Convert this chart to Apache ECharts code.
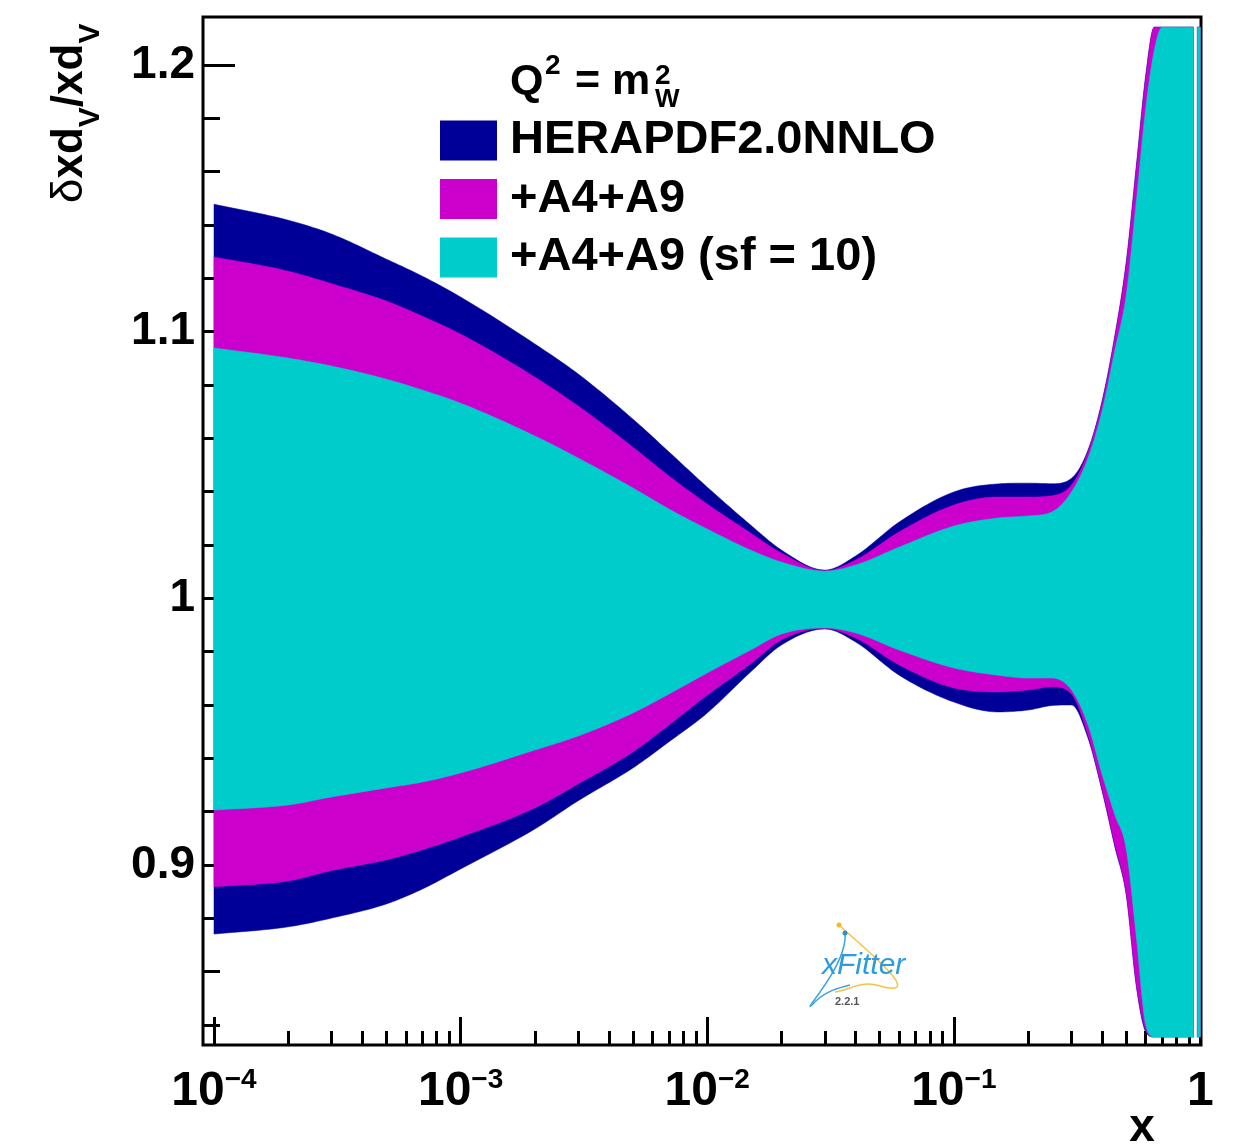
<!DOCTYPE html>
<html>
<head>
<meta charset="utf-8">
<script src="https://cdn.jsdelivr.net/npm/echarts@6.0.0/dist/echarts.min.js"></script>
<style>
  html,body{margin:0;padding:0;background:#fff;}
  #chart{width:1240px;height:1146px;}
</style>
</head>
<body>
<div id="chart"></div>
<script>
// x 取样点（真实的 x 值，画图时取 log10）
const xPoints = [0.0001, 0.0002, 0.0003, 0.0005, 0.0007, 0.001, 0.002, 0.003, 0.005, 0.007,
  0.01, 0.015, 0.02, 0.03, 0.04, 0.06, 0.1, 0.15, 0.2, 0.25,
  0.3, 0.35, 0.4, 0.45, 0.5, 0.55, 0.6, 0.65, 0.7, 0.8,
  0.9, 0.937, 0.955, 0.972, 1.0]

// HERAPDF2.0NNLO 误差带上下沿
const navyUp = [1.1478, 1.1418, 1.1366, 1.1272, 1.1208, 1.1130, 1.0954, 1.0841, 1.0672, 1.0549,
  1.0417, 1.0275, 1.0181, 1.0106, 1.0159, 1.0286, 1.0399, 1.0429, 1.0432, 1.0430,
  1.0450, 1.0556, 1.0744, 1.0987, 1.1261, 1.1625, 1.1962, 1.2142, 1.2142, 1.2142,
  1.2142, 1.2142, null, 1.2142, 1.2142]
const navyLow = [0.8741, 0.8768, 0.8801, 0.8854, 0.8910, 0.8985, 0.9135, 0.9241, 0.9364, 0.9462,
  0.9570, 0.9724, 0.9825, 0.9885, 0.9836, 0.9712, 0.9611, 0.9574, 0.9581, 0.9598,
  0.9600, 0.9476, 0.9274, 0.9067, 0.8888, 0.8543, 0.8374, 0.8355, 0.8355, 0.8355,
  0.8355, 0.8355, null, 0.8355, 0.8355]
// +A4+A9
const magUp = [1.1280, 1.1227, 1.1180, 1.1115, 1.1058, 1.0991, 1.0830, 1.0721, 1.0567, 1.0459,
  1.0354, 1.0245, 1.0170, 1.0104, 1.0144, 1.0249, 1.0350, 1.0380, 1.0380, 1.0385,
  1.0425, 1.0549, 1.0736, 1.0980, 1.1250, 1.1613, 1.1951, 1.2142, 1.2142, 1.2142,
  1.2142, 1.2142, null, 1.2142, 1.2142]
const magLow = [0.8918, 0.8940, 0.8979, 0.9019, 0.9057, 0.9105, 0.9214, 0.9304, 0.9424, 0.9525,
  0.9637, 0.9754, 0.9844, 0.9887, 0.9851, 0.9750, 0.9664, 0.9649, 0.9656, 0.9668,
  0.9641, 0.9487, 0.9281, 0.9075, 0.8895, 0.8550, 0.8381, 0.8355, 0.8355, 0.8355,
  0.8355, 0.8355, null, 0.8355, 0.8355]
// +A4+A9 (sf = 10)
const cyUp = [1.0939, 1.0901, 1.0871, 1.0822, 1.0781, 1.0732, 1.0609, 1.0526, 1.0414, 1.0335,
  1.0260, 1.0181, 1.0136, 1.0102, 1.0125, 1.0192, 1.0271, 1.0301, 1.0309, 1.0324,
  1.0399, 1.0526, 1.0706, 1.0931, 1.1137, 1.1493, 1.1838, 1.2056, 1.2142, 1.2142,
  1.2142, 1.2142, null, 1.2142, 1.2142]
const cyLow = [0.9206, 0.9225, 0.9255, 0.9289, 0.9311, 0.9345, 0.9431, 0.9484, 0.9570, 0.9641,
  0.9720, 0.9806, 0.9866, 0.9889, 0.9870, 0.9806, 0.9739, 0.9712, 0.9701, 0.9701,
  0.9656, 0.9525, 0.9337, 0.9187, 0.9060, 0.8727, 0.8400, 0.8355, 0.8355, 0.8355,
  0.8355, 0.8355, null, 0.8355, 0.8355]

const bandNames = ['HERAPDF2.0NNLO', '+A4+A9', '+A4+A9 (sf = 10)']
const bandColors = ['#000099', '#cc00cc', '#00cccc']

// 刻度
const xTickExp = [-4, -3, -2, -1, 0]
const xMinorMult = [2, 3, 4, 5, 6, 7, 8, 9]
const yMajorTicks = [0.9, 1.0, 1.1, 1.2]
const yMinorTicks = [0.84, 0.86, 0.88, 0.90, 0.92, 0.94, 0.96, 0.98, 1.00, 1.02,
  1.04, 1.06, 1.08, 1.10, 1.12, 1.14, 1.16, 1.18, 1.20]

const FONT = '"Liberation Sans", Arial, sans-serif'

let xMinorTicks = []
xTickExp.slice(0, -1).forEach(e => {
  xMinorMult.forEach(k => xMinorTicks.push(Math.log10(k * Math.pow(10, e))))
})

// 单调三次插值，只用于把折线画得平滑一些（像素坐标）
function smoothLine(pts, steps) {
  const n = pts.length
  if (n < 3) return pts.slice()
  const d = [], m = []
  for (let i = 0; i < n - 1; i++) d.push((pts[i + 1][1] - pts[i][1]) / (pts[i + 1][0] - pts[i][0]))
  m[0] = d[0]
  m[n - 1] = d[n - 2]
  for (let i = 1; i < n - 1; i++) m[i] = d[i - 1] * d[i] <= 0 ? 0 : (d[i - 1] + d[i]) / 2
  for (let i = 0; i < n - 1; i++) {
    if (d[i] === 0) { m[i] = 0; m[i + 1] = 0; continue }
    const a = m[i] / d[i], b = m[i + 1] / d[i], s = a * a + b * b
    if (s > 9) {
      const t = 3 / Math.sqrt(s)
      m[i] = t * a * d[i]
      m[i + 1] = t * b * d[i]
    }
  }
  const out = []
  for (let i = 0; i < n - 1; i++) {
    const x0 = pts[i][0], y0 = pts[i][1], x1 = pts[i + 1][0], y1 = pts[i + 1][1], h = x1 - x0
    for (let k = 0; k < steps; k++) {
      const t = k / steps, t2 = t * t, t3 = t2 * t
      const y = (2 * t3 - 3 * t2 + 1) * y0 + (t3 - 2 * t2 + t) * h * m[i] +
        (-2 * t3 + 3 * t2) * y1 + (t3 - t2) * h * m[i + 1]
      out.push([x0 + t * h, y])
    }
  }
  out.push(pts[n - 1])
  return out
}

// 把一条带（下沿、上沿）转成多边形，遇到 null 断开
function bandPolygons(params, api, style) {
  if (params.dataIndexInside !== 0) return null
  const n = params.dataInsideLength
  const segs = []
  let cur = null
  for (let j = 0; j < n; j++) {
    const x = api.value(0, j), lo = api.value(1, j), hi = api.value(2, j)
    if (isNaN(lo) || isNaN(hi) || lo == null || hi == null) { cur = null; continue }
    if (!cur) { cur = { up: [], low: [] }; segs.push(cur) }
    cur.up.push(api.coord([x, hi]))
    cur.low.push(api.coord([x, lo]))
  }
  return {
    type: 'group',
    children: segs.map(s => ({
      type: 'polygon',
      shape: { points: smoothLine(s.up, 12).concat(smoothLine(s.low, 12).reverse()) },
      style: style
    }))
  }
}

function band(name, low, up, color) {
  return {
    name: name, type: 'custom', coordinateSystem: 'cartesian2d',
    xAxisIndex: 0, yAxisIndex: 0, silent: true, clip: true,
    itemStyle: { color: color },
    encode: { x: 0, y: [1, 2] },
    data: xPoints.map((x, i) => [Math.log10(x), low[i], up[i]]),
    renderItem: (params, api) => bandPolygons(params, api, { fill: color, stroke: color, lineWidth: 0.5 })
  }
}

const series = [
  band(bandNames[0], navyLow, navyUp, bandColors[0]),
  band(bandNames[1], magLow, magUp, bandColors[1]),
  band(bandNames[2], cyLow, cyUp, bandColors[2])
]

// y 轴标题，旋转后逐段排字（带下标）
const measureCtx = document.createElement('canvas').getContext('2d')
function textWidth(txt, font) {
  measureCtx.font = font
  return measureCtx.measureText(txt).width
}
const titleParts = [
  { t: 'δ', font: '44px ' + FONT, y: -13.6 },
  { t: 'xd', font: 'bold 44px ' + FONT, y: -13.6 },
  { t: 'V', font: 'bold 30px ' + FONT, y: 7.7 },
  { t: '/xd', font: 'bold 44px ' + FONT, y: -13.6 },
  { t: 'V', font: 'bold 30px ' + FONT, y: 7.7 }
]
let cursor = 0
const titleChildren = titleParts.map(p => {
  const el = {
    type: 'text', x: cursor, y: p.y,
    style: { text: p.t, font: p.font, fill: '#000', align: 'left', textAlign: 'left', verticalAlign: 'middle', textVerticalAlign: 'middle' }
  }
  cursor += textWidth(p.t, p.font)
  return el
})

function txt(x, y, s, font, fill) {
  return {
    type: 'text', x: x, y: y,
    style: { text: s, font: font, fill: fill || '#000', align: 'left', textAlign: 'left', verticalAlign: 'middle', textVerticalAlign: 'middle' }
  }
}

const chart = echarts.init(document.getElementById('chart'), null, { renderer: 'canvas' })

chart.setOption({
  animation: false,
  backgroundColor: '#fff',
  grid: {
    left: 203, top: 17, width: 998, height: 1028,
    show: true, borderColor: '#000', borderWidth: 3, backgroundColor: 'transparent'
  },
  legend: {
    data: bandNames.map((n, i) => ({ name: n, itemStyle: { color: bandColors[i] } })),
    orient: 'vertical', left: 440, top: 117, padding: 0,
    itemWidth: 57, itemHeight: 40, itemGap: 11.5, icon: 'rect',
    selectedMode: false,
    textStyle: { fontSize: 47, fontWeight: 'bold', fontFamily: FONT, color: '#000', padding: [0, 0, 0, 8] }
  },
  xAxis: [
    {
      type: 'value', min: -4.0446, max: 0.0024, position: 'bottom',
      axisLine: { show: false, onZero: false }, splitLine: { show: false },
      axisTick: { inside: true, length: 28, customValues: xTickExp, lineStyle: { color: '#000', width: 3 } },
      axisLabel: {
        customValues: xTickExp, margin: 21,
        formatter: v => v === 0 ? '{b|1}' : '{b|10}{s|\u2212' + (-v) + '}',
        rich: {
          b: { fontSize: 48, fontWeight: 'bold', fontFamily: FONT, color: '#000', lineHeight: 50, verticalAlign: 'bottom', padding: [6, 0, 0, 0] },
          s: { fontSize: 28, fontWeight: 'bold', fontFamily: FONT, color: '#000', lineHeight: 34, verticalAlign: 'top' }
        }
      }
    },
    {
      type: 'value', min: -4.0446, max: 0.0024, position: 'bottom',
      axisLine: { show: false, onZero: false }, splitLine: { show: false },
      axisTick: { inside: true, length: 14, customValues: xMinorTicks, lineStyle: { color: '#000', width: 3 } },
      axisLabel: { show: false }
    }
  ],
  yAxis: [
    {
      type: 'value', min: 0.8325, max: 1.218, position: 'left',
      axisLine: { show: false, onZero: false }, splitLine: { show: false },
      axisTick: { inside: true, length: 32, customValues: yMajorTicks, lineStyle: { color: '#000', width: 3 } },
      axisLabel: {
        customValues: yMajorTicks, margin: 8,
        formatter: v => Math.abs(v - 1) < 1e-9 ? '1' : v.toFixed(1),
        fontSize: 46, fontWeight: 'bold', fontFamily: FONT, color: '#000'
      }
    },
    {
      type: 'value', min: 0.8325, max: 1.218, position: 'left',
      axisLine: { show: false, onZero: false }, splitLine: { show: false },
      axisTick: { inside: true, length: 17, customValues: yMinorTicks, lineStyle: { color: '#000', width: 3 } },
      axisLabel: { show: false }
    }
  ],
  series: series,
  graphic: [
    // y 轴标题
    { type: 'group', x: 83, y: 203, rotation: Math.PI / 2, children: titleChildren },
    // x 轴标题
    {
      type: 'text', x: 1142, y: 1128,
      style: { text: 'x', font: 'bold 46px ' + FONT, fill: '#000', align: 'center', textAlign: 'center', verticalAlign: 'middle', textVerticalAlign: 'middle' }
    },
    // Q^2 = m_W^2
    txt(510, 82, 'Q', 'bold 43px ' + FONT),
    txt(545, 66, '2', 'bold 28px ' + FONT),
    txt(575, 82, '=', 'bold 43px ' + FONT),
    txt(612, 82, 'm', 'bold 43px ' + FONT),
    txt(655, 76, '2', 'bold 28px ' + FONT),
    txt(655, 100, 'W', 'bold 26px ' + FONT),
    // xFitter 标志
    {
      type: 'bezierCurve',
      shape: { x1: 839, y1: 925, cpx1: 860, cpy1: 945, cpx2: 930, cpy2: 1000, x2: 880, y2: 986 },
      style: { stroke: '#f5c242', lineWidth: 1.5, fill: 'none' }
    },
    {
      type: 'bezierCurve',
      shape: { x1: 880, y1: 986, cpx1: 860, cpy1: 980, cpx2: 850, cpy2: 990, x2: 835, y2: 992 },
      style: { stroke: '#f5c242', lineWidth: 1.5, fill: 'none' }
    },
    {
      type: 'bezierCurve',
      shape: { x1: 845, y1: 933, cpx1: 848, cpy1: 965, cpx2: 800, cpy2: 1015, x2: 812, y2: 1005 },
      style: { stroke: '#3ea2e0', lineWidth: 1.5, fill: 'none' }
    },
    {
      type: 'bezierCurve',
      shape: { x1: 812, y1: 1005, cpx1: 825, cpy1: 990, cpx2: 840, cpy2: 988, x2: 850, y2: 985 },
      style: { stroke: '#3ea2e0', lineWidth: 1.5, fill: 'none' }
    },
    { type: 'circle', shape: { cx: 839, cy: 925, r: 2.5 }, style: { fill: '#f5b82e' } },
    { type: 'circle', shape: { cx: 845, cy: 933, r: 2.5 }, style: { fill: '#2b8fd6' } },
    {
      type: 'text', x: 822, y: 966,
      style: { text: 'xFitter', font: 'italic 30px ' + FONT, fill: '#2d9be0', align: 'left', textAlign: 'left', verticalAlign: 'middle', textVerticalAlign: 'middle' }
    },
    txt(835, 1002, '2.2.1', 'bold 11px ' + FONT, '#555')
  ]
})
</script>
</body>
</html>
